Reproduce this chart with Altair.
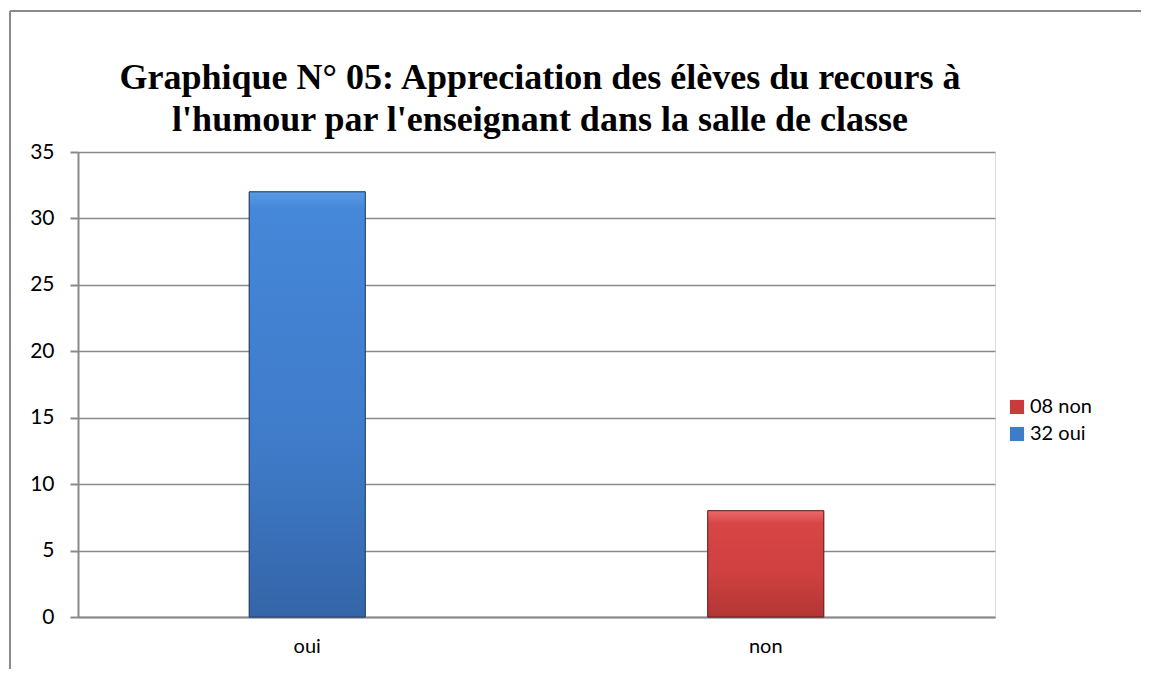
import altair as alt
import pandas as pd

categories = ["oui", "non"]
values = [32, 8]
legend_labels = ["32 oui", "08 non"]
legend_order = ["08 non", "32 oui"]
title_line1 = "Graphique N° 05: Appreciation des élèves du recours à"
title_line2 = "l'humour par l'enseignant dans la salle de classe"
y_ticks = [0, 5, 10, 15, 20, 25, 30, 35]

df = pd.DataFrame({"cat": categories, "val": values, "leg": legend_labels})

FONT = "Lato"
GRAY = "#8a8a8a"
FS = 20

x_enc = alt.X(
    "cat:N",
    sort=categories,
    scale=alt.Scale(paddingInner=0.747, paddingOuter=0.3735),
    axis=alt.Axis(
        title=None, labelAngle=0, ticks=False, domainColor=GRAY, domainWidth=2,
        labelFontSize=FS, labelFont=FONT, labelColor="#000", labelPadding=19, grid=False,
    ),
)
y_enc = alt.Y(
    "val:Q",
    scale=alt.Scale(domain=[0, 35], nice=False),
    axis=alt.Axis(
        title=None, values=y_ticks, tickSize=8, tickColor=GRAY, tickWidth=2,
        domainColor=GRAY, domainWidth=2, gridColor=GRAY, gridWidth=1.5,
        labelFontSize=FS + 1, labelFont=FONT, labelColor="#000", labelPadding=16,
    ),
)

one = pd.DataFrame({"a": [0]})

border_top = alt.Chart(one).mark_rule(
    stroke=GRAY, strokeWidth=2, clip=False
).encode(x=alt.value(-68), x2=alt.value(1070), y=alt.value(-141))

border_left = alt.Chart(one).mark_rule(
    stroke=GRAY, strokeWidth=2, clip=False
).encode(x=alt.value(-68), y=alt.value(-141), y2=alt.value(800))

title1 = alt.Chart(one).mark_text(
    text=title_line1, font="Liberation Serif", fontSize=36, fontWeight="bold",
    color="#000", align="center", baseline="middle",
).encode(x=alt.value(462), y=alt.value(-74))

title2 = alt.Chart(one).mark_text(
    text=title_line2, font="Liberation Serif", fontSize=36, fontWeight="bold",
    color="#000", align="center", baseline="middle",
).encode(x=alt.value(462), y=alt.value(-32))

bars = alt.Chart(df).mark_bar(stroke="#1f2f4a", strokeWidth=0.5).encode(
    x=x_enc,
    y=y_enc,
    color=alt.Color(
        "leg:N",
        scale=alt.Scale(domain=legend_order, range=["#c93b3b", "#3d7bcb"]),
        legend=alt.Legend(
            title=None, orient="none", legendX=929, legendY=245,
            symbolType="square", symbolSize=200, symbolStrokeWidth=0,
            labelFontSize=FS, labelFont=FONT, labelColor="#000",
            rowPadding=7, labelOffset=3,
        ),
    ),
)

grad_oui = alt.Chart(df).transform_filter(alt.datum.cat == "oui").mark_bar(
    stroke="#24406a", strokeWidth=1,
    color=alt.Gradient(
        gradient="linear", x1=0, x2=0, y1=0, y2=1,
        stops=[
            alt.GradientStop(offset=0, color="#5a9be6"),
            alt.GradientStop(offset=0.04, color="#4587d8"),
            alt.GradientStop(offset=0.6, color="#3f7bc9"),
            alt.GradientStop(offset=1, color="#3465a8"),
        ],
    ),
).encode(x=x_enc, y=y_enc)

grad_non = alt.Chart(df).transform_filter(alt.datum.cat == "non").mark_bar(
    stroke="#6a2020", strokeWidth=1,
    color=alt.Gradient(
        gradient="linear", x1=0, x2=0, y1=0, y2=1,
        stops=[
            alt.GradientStop(offset=0, color="#ec6a6a"),
            alt.GradientStop(offset=0.12, color="#d84545"),
            alt.GradientStop(offset=0.6, color="#cf4040"),
            alt.GradientStop(offset=1, color="#b33535"),
        ],
    ),
).encode(x=x_enc, y=y_enc)

chart = alt.layer(
    border_top, border_left, title1, title2, bars, grad_oui, grad_non
).properties(
    width=917,
    height=465,
    autosize=alt.AutoSizeParams(type="none"),
    padding={"left": 70, "top": 144, "right": 146, "bottom": 52},
).configure_view(stroke=None).configure(background="white")

chart.save("out.html", embed_options={"renderer": "svg", "actions": False})
